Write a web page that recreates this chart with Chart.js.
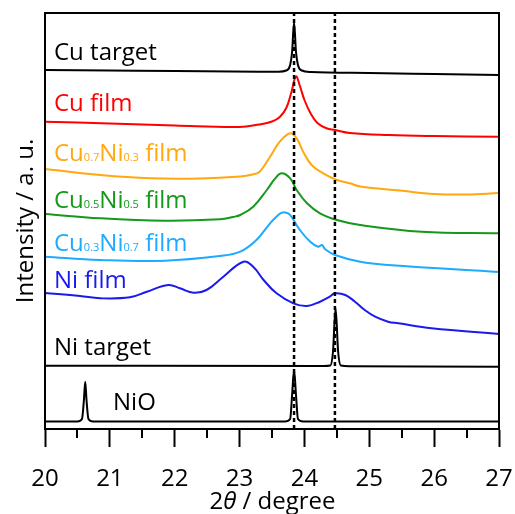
<!DOCTYPE html>
<html>
<head>
  <title>XRD patterns</title>
  <script src="https://cdn.jsdelivr.net/npm/chart.js"></script>
  <style>
    body { margin: 0; background: #fff; }
  </style>
</head>
<body>
  <canvas id="xrd" width="515" height="514"></canvas>

  <script>
    // 2theta tick labels and reference lines
    const tickValues = [20, 21, 22, 23, 24, 25, 26, 27];
    const minorTicks = [20.5, 21.5, 22.5, 23.5, 24.5, 25.5, 26.5];
    const refLines = [23.84, 24.47];

    // stacked intensities (a.u., offset traces)
    const xCuTarget = [20, 21, 22, 23.3, 23.6, 23.72, 23.78, 23.81, 23.84, 23.87, 23.9, 23.96, 24.1, 25, 26, 27];
    const yCuTarget = [359, 358.5, 358, 357.3, 357.3, 358.5, 364, 377, 406.5, 377, 364, 358.5, 357, 356, 355, 354];

    const xCuFilm = [20, 21, 22, 23, 23.3, 23.5, 23.62, 23.72, 23.8, 23.87, 23.93, 24, 24.1, 24.2, 24.34, 24.47, 24.7, 25.3, 26, 27];
    const yCuFilm = [307.3, 305.5, 303.5, 302, 304.5, 307.5, 312, 321, 337, 352.5, 343, 329, 315, 306, 300.7, 299, 296, 294, 293, 292.3];

    const xCu7Ni3 = [20, 20.85, 21.62, 22.39, 23.01, 23.2, 23.31, 23.47, 23.62, 23.78, 23.88, 23.98, 24.11, 24.29, 24.5, 24.7, 24.86, 25.47, 26, 26.5, 27];
    const yCu7Ni3 = [260, 254, 250.7, 250.5, 252.5, 254.5, 257.3, 272.3, 287.3, 295.7, 290.7, 277.3, 264, 255.7, 249, 245.7, 242.5, 238.5, 235, 234.5, 236];

    const xCu5Ni5 = [20, 20.85, 21.85, 22.7, 22.9, 23.01, 23.21, 23.42, 23.55, 23.65, 23.78, 23.88, 24.04, 24.24, 24.5, 24.86, 25.81, 27];
    const yCu5Ni5 = [215, 210.7, 208.3, 209.7, 212, 214, 222.3, 239, 250.7, 255.7, 250.7, 239, 225.7, 215.7, 209, 204, 197.3, 195.7];

    const xCu3Ni7 = [20, 20.85, 21.85, 22.7, 23.01, 23.26, 23.47, 23.58, 23.65, 23.72, 23.78, 23.93, 24.09, 24.21, 24.27, 24.32, 24.47, 24.86, 25.29, 27];
    const yCu3Ni7 = [172.3, 169, 168.3, 173, 177.3, 189, 205.7, 213, 216.3, 216.3, 214, 199, 187.3, 182.3, 184, 179.7, 174, 167.3, 164, 157];

    const xNiFilm = [20, 20.54, 20.85, 21.31, 21.57, 21.9, 22.08, 22.29, 22.49, 22.75, 23.06, 23.21, 23.37, 23.57, 23.83, 24.04, 24.24, 24.39, 24.47, 24.63, 24.78, 24.93, 25.09, 25.29, 25.45, 25.96, 27];
    const yNiFilm = [136, 133, 130.7, 131.7, 137.3, 144, 140.7, 136.3, 139, 152.3, 167.3, 162.3, 149, 135.7, 125.7, 123, 127.3, 132.3, 135.7, 134, 127.3, 119, 112.3, 107.3, 105.7, 100.7, 95];

    const xNiTarget = [20, 24.3, 24.4, 24.44, 24.48, 24.52, 24.56, 24.7, 27];
    const yNiTarget = [63.3, 63, 63.5, 77, 121, 77, 63.5, 62.8, 62.3];

    const xNiO = [20, 20.5, 20.57, 20.6, 20.62, 20.64, 20.67, 20.74, 23.7, 23.78, 23.81, 23.84, 23.87, 23.9, 23.98, 27];
    const yNiO = [7.5, 7.5, 10, 29, 47.3, 29, 10, 7.5, 7.5, 10, 34, 59, 34, 10, 7.5, 7.5];

    const seriesNames = ['Cu target', 'Cu film', 'Cu0.7Ni0.3 film', 'Cu0.5Ni0.5 film', 'Cu0.3Ni0.7 film', 'Ni film', 'Ni target', 'NiO'];
    const seriesColors = ['#000000', '#ff0000', '#ffa80f', '#14991a', '#1eaaff', '#1a1aee', '#000000', '#000000'];
    const sharpPeaks = [true, false, false, false, false, false, true, true];

    const FONT = '"Open Sans", "Noto Sans", sans-serif';

    const pts = (xs, ys) => xs.map((x, i) => ({ x: x, y: ys[i] }));

    const traces = [
      [xCuTarget, yCuTarget], [xCuFilm, yCuFilm], [xCu7Ni3, yCu7Ni3], [xCu5Ni5, yCu5Ni5],
      [xCu3Ni7, yCu3Ni7], [xNiFilm, yNiFilm], [xNiTarget, yNiTarget], [xNiO, yNiO]
    ];

    const datasets = [];
    // dotted reference lines first so they sit on top
    refLines.forEach(v => {
      datasets.push({
        data: [{ x: v, y: 0 }, { x: v, y: 416 }],
        borderColor: '#000', borderWidth: 2.5, borderDash: [4, 3],
        pointRadius: 0
      });
    });
    traces.forEach((t, i) => {
      const ds = {
        label: seriesNames[i],
        data: pts(t[0], t[1]),
        borderColor: seriesColors[i],
        borderWidth: 2,
        pointRadius: 0
      };
      if (sharpPeaks[i]) ds.cubicInterpolationMode = 'monotone';
      else ds.tension = 0.4;
      datasets.push(ds);
    });

    // label pieces: [text, isSubscript]
    const labelParts = [
      [['Cu target']],
      [['Cu film']],
      [['Cu'], ['0.7', 1], ['Ni'], ['0.3', 1], [' film']],
      [['Cu'], ['0.5', 1], ['Ni'], ['0.5', 1], [' film']],
      [['Cu'], ['0.3', 1], ['Ni'], ['0.7', 1], [' film']],
      [['Ni film']],
      [['Ni target']],
      [['NiO']]
    ];
    const labelPos = [[54, 60], [54, 111], [54, 161], [54, 208], [54, 251], [54, 288], [54, 355], [113, 410]];

    const decor = {
      id: 'decor',
      afterDraw(chart) {
        const ctx = chart.ctx;
        const a = chart.chartArea;
        const xs = chart.scales.x;
        ctx.save();
        ctx.strokeStyle = '#000';
        ctx.lineWidth = 2;
        ctx.strokeRect(a.left, a.top, a.right - a.left, a.bottom - a.top);

        // minor ticks
        minorTicks.forEach(v => {
          const px = Math.round(xs.getPixelForValue(v));
          ctx.beginPath();
          ctx.moveTo(px, a.bottom);
          ctx.lineTo(px, a.bottom + 9);
          ctx.stroke();
        });

        // trace labels
        ctx.textBaseline = 'alphabetic';
        ctx.textAlign = 'left';
        labelParts.forEach((parts, i) => {
          let x = labelPos[i][0];
          const y = labelPos[i][1];
          ctx.fillStyle = seriesColors[i];
          parts.forEach(p => {
            ctx.font = (p[1] ? '11px ' : '24px ') + FONT;
            ctx.fillText(p[0], x, y);
            x += ctx.measureText(p[0]).width;
          });
        });

        // y title
        ctx.fillStyle = '#000';
        ctx.font = '24px ' + FONT;
        ctx.save();
        ctx.translate(33, 221);
        ctx.rotate(-Math.PI / 2);
        ctx.textAlign = 'center';
        ctx.fillText('Intensity / a. u.', 0, 0);
        ctx.restore();

        // x title with italic theta
        const t1 = '2', t2 = '\u03B8', t3 = ' / degree';
        ctx.font = '24px ' + FONT;
        const w1 = ctx.measureText(t1).width, w3 = ctx.measureText(t3).width;
        ctx.font = 'italic 24px ' + FONT;
        const w2 = ctx.measureText(t2).width;
        let x0 = 272.5 - (w1 + w2 + w3) / 2;
        const yb = 509;
        ctx.textAlign = 'left';
        ctx.font = '24px ' + FONT;
        ctx.fillText(t1, x0, yb);
        ctx.font = 'italic 24px ' + FONT;
        ctx.fillText(t2, x0 + w1, yb);
        ctx.font = '24px ' + FONT;
        ctx.fillText(t3, x0 + w1 + w2, yb);
        ctx.restore();
      }
    };

    new Chart(document.getElementById('xrd'), {
      type: 'line',
      data: { datasets: datasets },
      plugins: [decor],
      options: {
        responsive: false,
        animation: false,
        layout: { padding: { left: 45, right: 16, top: 13, bottom: 0 } },
        plugins: { legend: { display: false }, tooltip: { enabled: false } },
        scales: {
          x: {
            type: 'linear',
            min: 20, max: 27,
            afterBuildTicks: s => { s.ticks = tickValues.map(v => ({ value: v })); },
            afterFit: s => { s.height = 85; s.paddingLeft = 0; s.paddingRight = 0; },
            ticks: {
              font: { family: FONT, size: 24 },
              color: '#000',
              padding: 18,
              maxRotation: 0,
              autoSkip: false
            },
            grid: { drawOnChartArea: false, drawTicks: true, tickLength: 18, tickWidth: 2, tickColor: '#000' },
            border: { display: true, width: 2, color: '#000' }
          },
          y: {
            type: 'linear',
            display: false,
            min: 0, max: 416
          }
        }
      }
    });
  </script>
</body>
</html>
